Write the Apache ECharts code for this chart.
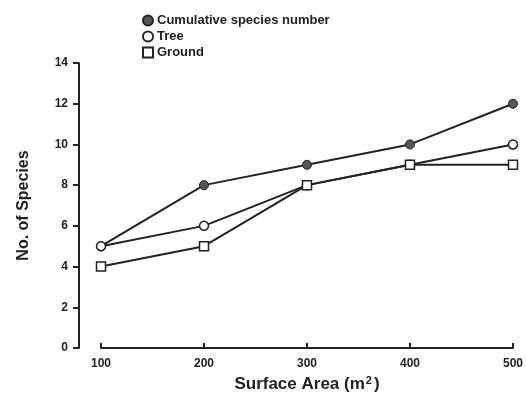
<!DOCTYPE html>
<html><head><meta charset="utf-8">
<script src="https://cdn.jsdelivr.net/npm/echarts@6/dist/echarts.min.js"></script>
<style>html,body{margin:0;padding:0;background:#fff}#c{width:526px;height:412px}</style>
</head><body><div id="c"></div>
<script>
const areas = [100, 200, 300, 400, 500];
const cumulative = [5, 8, 9, 10, 12];
const tree = [5, 6, 8, 9, 10];
const ground = [4, 5, 8, 9, 9];
const yTicks = [0, 2, 4, 6, 8, 10, 12, 14];
const seriesNames = ['Cumulative species number', 'Tree', 'Ground'];

const pair = (vals) => areas.map((a, i) => [a, vals[i]]);
const font = 'Arial, "Liberation Sans", sans-serif';
const chart = echarts.init(document.getElementById('c'));
chart.setOption({
  backgroundColor: '#fff',
  animation: false,
  legend: {
    orient: 'vertical', left: 137, top: 9, itemGap: 3,
    itemWidth: 10, itemHeight: 10,
    textStyle: { fontFamily: font, fontWeight: 'bold', fontSize: 13, color: '#222', padding: [0,0,0,-1] },
    data: [
      { name: seriesNames[0], icon: 'circle' },
      { name: seriesNames[1], icon: 'circle' },
      { name: seriesNames[2], icon: 'rect' }
    ]
  },
  grid: { left: 101, right: 11, top: 63, bottom: 64, containLabel: false },
  xAxis: {
    type: 'value', min: areas[0], max: areas[areas.length - 1], interval: 100,
    offset: 5,
    name: 'Surface Area (m{sup|2})', nameLocation: 'middle', nameGap: 22,
    nameTextStyle: { fontFamily: font, fontWeight: 'bold', fontSize: 17, color: '#222',
      rich: { sup: { fontFamily: font, fontWeight: 'bold', fontSize: 11, color: '#222', verticalAlign: 'top', padding: [0, 2, 8, 1] } } },
    axisLine: { lineStyle: { color: '#222', width: 2 } },
    axisTick: { inside: true, length: 5, lineStyle: { color: '#222', width: 2 } },
    axisLabel: { fontFamily: font, fontWeight: 'bold', fontSize: 12, color: '#222', margin: 5 },
    splitLine: { show: false }
  },
  yAxis: {
    type: 'value', min: yTicks[0], max: yTicks[yTicks.length - 1], interval: 2,
    offset: 22,
    name: 'No. of Species', nameLocation: 'middle', nameGap: 47,
    nameTextStyle: { fontFamily: font, fontWeight: 'bold', fontSize: 16, color: '#222' },
    axisLine: { show: true, lineStyle: { color: '#222', width: 2 } },
    axisTick: { show: true, length: 6, lineStyle: { color: '#222', width: 2 } },
    axisLabel: { fontFamily: font, fontWeight: 'bold', fontSize: 12, color: '#222', margin: 11 },
    splitLine: { show: false }
  },
  series: [
    { name: seriesNames[0], type: 'line', data: pair(cumulative), symbol: 'circle', symbolSize: 9,
      lineStyle: { color: '#222', width: 2 },
      itemStyle: { color: '#555', borderColor: '#222', borderWidth: 1 }, z: 3 },
    { name: seriesNames[1], type: 'line', data: pair(tree), symbol: 'circle', symbolSize: 9,
      lineStyle: { color: '#222', width: 2 },
      itemStyle: { color: '#fff', borderColor: '#222', borderWidth: 1.5 }, z: 4 },
    { name: seriesNames[2], type: 'line', data: pair(ground), symbol: 'rect', symbolSize: 9,
      lineStyle: { color: '#222', width: 2 },
      itemStyle: { color: '#fff', borderColor: '#222', borderWidth: 1.5 }, z: 5 }
  ]
});
</script></body></html>
